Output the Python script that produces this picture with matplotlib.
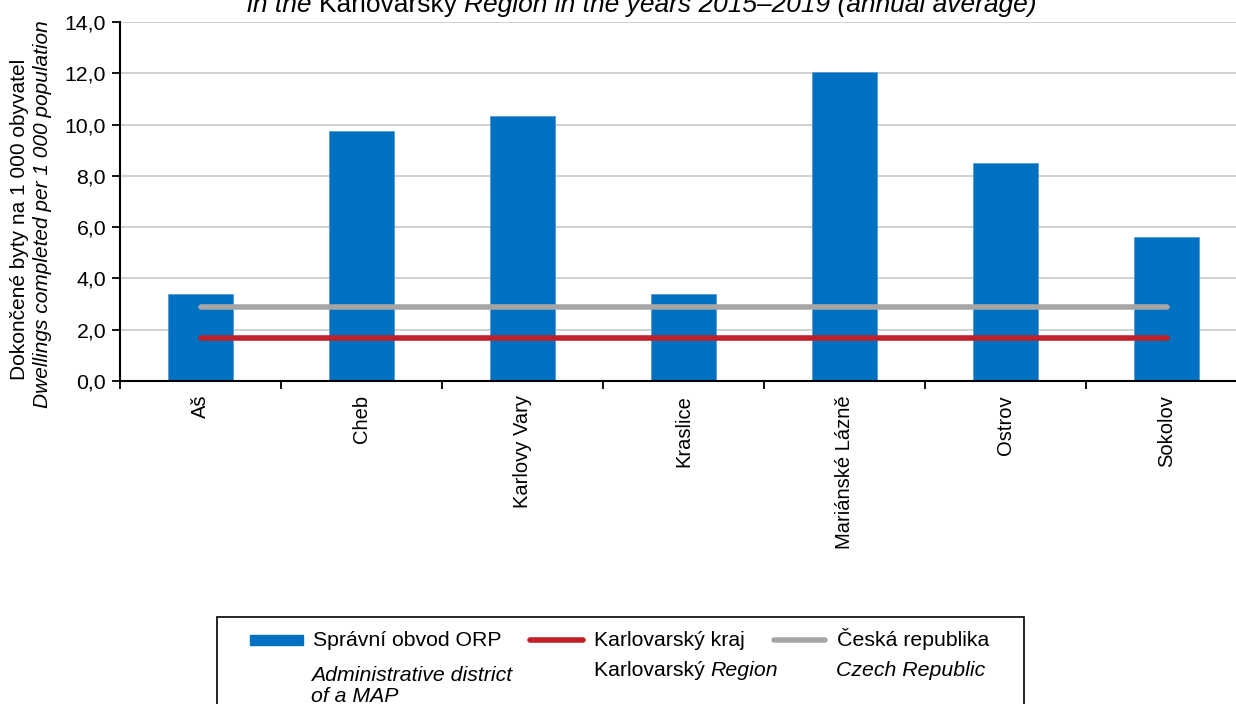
import numpy as np
import matplotlib.pyplot as plt

plt.rcParams['font.family'] = ['Liberation Sans', 'DejaVu Sans']

# data
obvody = ["Aš", "Cheb", "Karlovy Vary", "Kraslice", "Mariánské Lázně", "Ostrov", "Sokolov"]
byty_orp = [3.39, 9.75, 10.35, 3.40, 12.05, 8.50, 5.62]
kraj = [1.68] * 7
cr = [2.88] * 7

modra = "#0070C0"
cervena = "#C0202A"
seda = "#A6A6A6"
fs = 15.3

W, H = 1236, 704
fig = plt.figure(figsize=(W / 100, H / 100), dpi=100)

def fx(px):
    return px / W

def fy(py):
    return 1 - py / H

ax = fig.add_axes([fx(120), fy(381), fx(1247) - fx(120), fy(22) - fy(381)])

x = np.arange(len(obvody))
ax.bar(x, byty_orp, width=0.4, color=modra, edgecolor="#5B9BD5", linewidth=0.6, zorder=2)
ax.plot(x, cr, color=seda, lw=4, solid_capstyle="round", zorder=3)
ax.plot(x, kraj, color=cervena, lw=4, solid_capstyle="round", zorder=3)

ax.set_xlim(-0.5, len(obvody) - 0.5)
ax.set_ylim(0, 14)
ax.set_yticks(np.arange(0, 15, 2))
ax.set_yticklabels([("%.1f" % v).replace(".", ",") for v in np.arange(0, 15, 2)], fontsize=fs)
ax.yaxis.grid(True, color="#C8C8C8", lw=1.2, zorder=0)
ax.set_axisbelow(True)

# ticks between categories, labels under the categories
ax.set_xticks(np.arange(-0.5, len(obvody), 1))
ax.set_xticklabels([])
ax.set_xticks(x, minor=True)
ax.set_xticklabels(obvody, minor=True, rotation=90, fontsize=14.5, va="top", ha="center")
ax.tick_params(axis="x", which="minor", length=0, pad=10)
ax.tick_params(axis="x", which="major", length=6, width=1.3, direction="out")
ax.tick_params(axis="y", length=6, width=1.3, direction="out", pad=4)

for s in ["top", "right"]:
    ax.spines[s].set_visible(False)
ax.spines["left"].set_linewidth(1.5)
ax.spines["bottom"].set_linewidth(1.5)

# popisek osy y
fig.text(fx(20), fy(219), "Dokončené byty na 1 000 obyvatel", rotation=90,
         ha="center", va="center", fontsize=15)
fig.text(fx(43), fy(214), "Dwellings completed per 1 000 population", rotation=90,
         ha="center", va="center", fontsize=15, style="italic")

renderer = fig.canvas.get_renderer()

def skladany_text(x0, y0, kusy, velikost=fs):
    # kusy = list of (text, italic)
    xp = x0
    for t, it in kusy:
        h = fig.text(fx(xp), fy(y0), t, fontsize=velikost, style="italic" if it else "normal",
                     ha="left", va="baseline")
        bb = h.get_window_extent(renderer)
        xp += bb.width

# title (only the second line is visible in the reference)
skladany_text(247, 12, [("in the ", True), ("Karlovarský ", False),
                        ("Region in the years 2015–2019 (annual average)", True)], 19)

# legend drawn by hand
box = plt.Rectangle((fx(217), fy(720)), fx(1024) - fx(217), fy(617) - fy(720),
                    transform=fig.transFigure, fill=False, edgecolor="black", lw=1.2)
fig.patches.append(box)

fig.patches.append(plt.Rectangle((fx(250), fy(645)), fx(303) - fx(250), fy(635) - fy(645),
                                 transform=fig.transFigure, color=modra))
fig.lines.append(plt.Line2D([fx(530), fx(583)], [fy(640), fy(640)], transform=fig.transFigure,
                            color=cervena, lw=4, solid_capstyle="round"))
fig.lines.append(plt.Line2D([fx(774), fx(825)], [fy(640), fy(640)], transform=fig.transFigure,
                            color=seda, lw=4, solid_capstyle="round"))

skladany_text(313, 646, [("Správní obvod ORP", False)])
skladany_text(594, 646, [("Karlovarský kraj", False)])
skladany_text(837, 646, [("Česká republika", False)])
skladany_text(311, 681, [("Administrative district", True)])
skladany_text(311, 702, [("of a MAP", True)])
skladany_text(594, 676, [("Karlovarský ", False), ("Region", True)])
skladany_text(836, 676, [("Czech Republic", True)])

fig.savefig("out.png", dpi=100)
